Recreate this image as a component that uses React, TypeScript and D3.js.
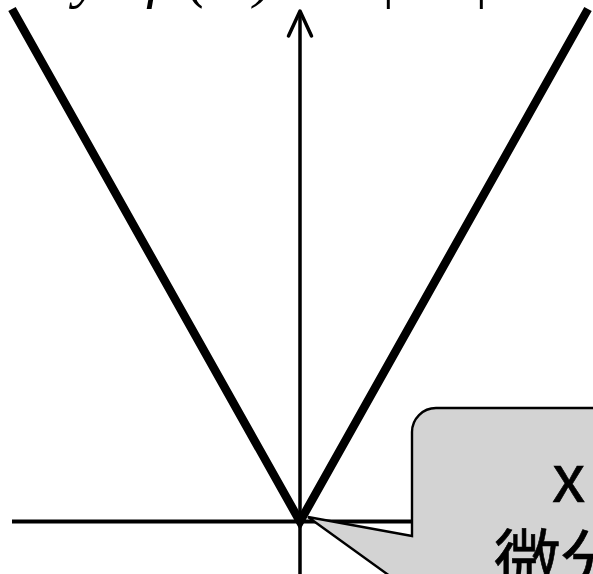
import React from 'react';
import * as d3 from 'd3';

// y = |x|
const xValues = [-1, 0, 1];
const yValues = [1, 0, 1];

// title (only its descenders show at the top edge)
const titleParts = ['y', '=', 'f', '(', 'x', ')', '=', '|', 'x', '|'];
const titleX = [74, 112, 146, 188, 216, 254, 310, 379, 420, 472];

// callout
const calloutLines = ['x = 0 で', '微分不可能'];

const W = 593, H = 574;

export default function App() {
  const x = d3.scaleLinear().domain([-1, 1]).range([12, 588]);
  const y = d3.scaleLinear().domain([0, 1]).range([521.5, 9]);

  const line = d3.line<number>()
    .x((_, i) => x(xValues[i]))
    .y(d => y(d));

  const x0 = x(0), y0 = y(0);

  // callout box (runs off the right and bottom edges)
  const bx = 412, by = 408, r = 24;
  const tip = [x0 + 8, y0 - 4.5];
  const callout = `M${bx},${by + r} A${r},${r} 0 0 1 ${bx + r},${by} L${W + 200},${by} L${W + 200},${H + 200} L${bx},${H + 200} L${bx},592 L${tip[0]},${tip[1]} L${bx},536 Z`;

  return (
    <svg width={W} height={H} style={{ position: 'absolute', left: 0, top: 0, background: '#fff' }}>
      {/* title */}
      <text y={-4} fontFamily="Liberation Serif" fontStyle="italic" fontSize={60} fill="#000">
        {titleParts.map((t, i) => (
          <tspan key={i} x={titleX[i]}>{t}</tspan>
        ))}
      </text>

      {/* axes */}
      <line x1={12} x2={W} y1={y0} y2={y0} stroke="#000" strokeWidth={3.8} />
      <line x1={x0} x2={x0} y1={H + 10} y2={11} stroke="#000" strokeWidth={3.5} />
      <path d={`M${x0 - 11.5},36 L${x0},11 L${x0 + 11.5},36`} fill="none" stroke="#000"
        strokeWidth={3.5} strokeLinecap="round" strokeLinejoin="round" />

      {/* graph */}
      <path d={line(yValues) || ''} fill="none" stroke="#000" strokeWidth={8.5} strokeLinejoin="miter" />

      {/* callout */}
      <path d={callout} fill="#d3d3d3" stroke="#000" strokeWidth={2.4} strokeLinejoin="miter" />
      <text fontFamily="Noto Sans CJK JP" fontSize={67} fill="#000" stroke="#000" strokeWidth={0.6}>
        <tspan x={552} y={502}>{calloutLines[0]}</tspan>
        <tspan x={494} y={585}>{calloutLines[1]}</tspan>
      </text>
    </svg>
  );
}
